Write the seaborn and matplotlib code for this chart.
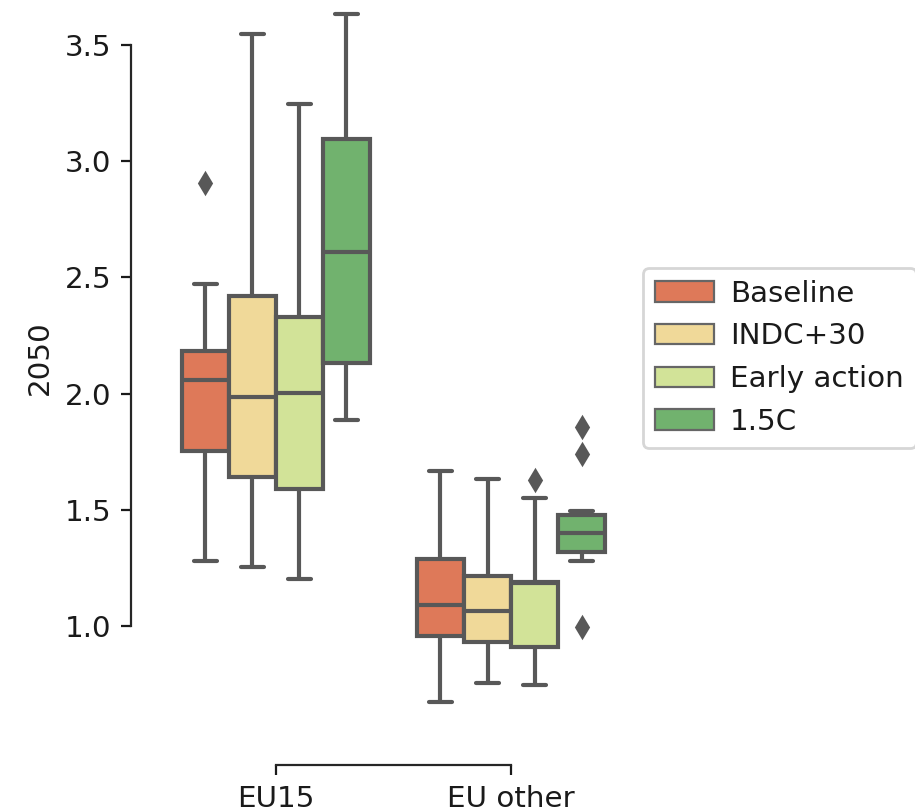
import numpy as np
import pandas as pd
import matplotlib
matplotlib.use("Agg")
import matplotlib.pyplot as plt
import seaborn as sns

regions = ["EU15", "EU other"]
scenarios = ["Baseline", "INDC+30", "Early action", "1.5C"]

eu15_baseline = [1.28, 1.45, 1.62, 1.754, 1.85, 1.97, 2.058, 2.10, 2.15, 2.185, 2.30, 2.472, 2.907]
eu15_indc30 = [1.254, 1.40, 1.55, 1.643, 1.78, 1.90, 1.985, 2.10, 2.25, 2.42, 2.75, 3.10, 3.546]
eu15_early = [1.201, 1.35, 1.50, 1.589, 1.72, 1.88, 2.004, 2.10, 2.22, 2.328, 2.60, 2.90, 3.247]
eu15_15c = [1.886, 1.98, 2.06, 2.130, 2.30, 2.45, 2.608, 2.75, 2.95, 3.094, 3.25, 3.45, 3.635]

euo_baseline = [0.674, 0.80, 0.90, 0.957, 1.00, 1.05, 1.092, 1.15, 1.22, 1.288, 1.40, 1.52, 1.668]
euo_indc30 = [0.756, 0.84, 0.90, 0.932, 0.98, 1.03, 1.065, 1.11, 1.17, 1.215, 1.35, 1.50, 1.633]
euo_early = [0.746, 0.82, 0.88, 0.911, 1.00, 1.10, 1.184, 1.186, 1.19, 1.191, 1.35, 1.552, 1.628]
euo_15c = [0.997, 1.280, 1.30, 1.320, 1.36, 1.38, 1.399, 1.43, 1.46, 1.478, 1.496, 1.739, 1.855]

series = {
    ("EU15", "Baseline"): eu15_baseline,
    ("EU15", "INDC+30"): eu15_indc30,
    ("EU15", "Early action"): eu15_early,
    ("EU15", "1.5C"): eu15_15c,
    ("EU other", "Baseline"): euo_baseline,
    ("EU other", "INDC+30"): euo_indc30,
    ("EU other", "Early action"): euo_early,
    ("EU other", "1.5C"): euo_15c,
}

rows = []
for (reg, sc), vals in series.items():
    for v in vals:
        rows.append({"region": reg, "scenario": sc, "2050": v})
df = pd.DataFrame(rows)

sns.set_style("ticks")
plt.rcParams["font.family"] = ["DejaVu Sans"]
plt.rcParams["font.size"] = 10.6
plt.rcParams["text.color"] = "#1a1a1a"
plt.rcParams["xtick.color"] = "#1a1a1a"
plt.rcParams["ytick.color"] = "#1a1a1a"
plt.rcParams["axes.labelcolor"] = "#1a1a1a"

fig = plt.figure(figsize=(4.575, 4.055), dpi=200)
ax = fig.add_axes([0.1732, 0.0905, 0.5137, 0.9366])

lc = "#585858"
sns.boxplot(data=df, x="region", y="2050", hue="scenario",
            order=regions, hue_order=scenarios,
            palette=sns.color_palette("RdYlGn", 4), saturation=0.75,
            linewidth=1.5, linecolor=lc, fliersize=5,
            flierprops=dict(marker="d", markerfacecolor=lc, markeredgecolor=lc),
            ax=ax)

ax.set_xlim(-0.5, 1.5)
ax.set_ylim(0.5198, 3.788)
ax.set_xlabel("")
ax.set_ylabel("2050")
ax.tick_params(labelsize=10.6)
sns.despine(ax=ax, offset=10, trim=True)
sns.move_legend(ax, "center left", bbox_to_anchor=(1, 0.5), title=None,
                frameon=True, fontsize=10.6, handletextpad=0.55)
leg = ax.get_legend()
for h in leg.legend_handles:
    h.set_linewidth(0.8)
    h.set_edgecolor("#666666")

fig.savefig("out.png", dpi=200)
